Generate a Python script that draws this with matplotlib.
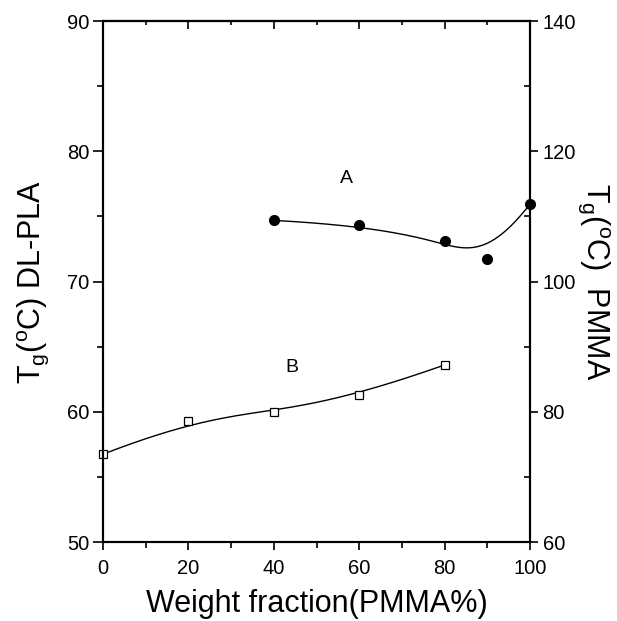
import numpy as np
import matplotlib
matplotlib.use("Agg")
import matplotlib.pyplot as plt
from matplotlib.ticker import MultipleLocator

plt.rcParams['font.family'] = ['Liberation Sans', 'DejaVu Sans']
plt.rcParams['mathtext.fontset'] = 'custom'
plt.rcParams['mathtext.rm'] = 'Liberation Sans'
plt.rcParams['mathtext.it'] = 'Liberation Sans'

# Data
xA = [40, 60, 80, 90, 100]
yA = [109.4, 108.7, 106.2, 103.5, 111.9]   # PMMA Tg (right axis)
xB = [0, 20, 40, 60, 80]
yB = [56.75, 59.3, 60.0, 61.3, 63.6]        # DL-PLA Tg (left axis)


def bspline(px, py, n=300, k=3):
    px = np.asarray(px, float); py = np.asarray(py, float)
    m = len(px)
    t = np.concatenate([np.zeros(k), np.linspace(0, 1, m - k + 1), np.ones(k)])
    u = np.linspace(0, 1, n)
    u[-1] = 1 - 1e-12

    def N(i, p):
        if p == 0:
            return ((t[i] <= u) & (u < t[i + 1])).astype(float)
        a = np.zeros_like(u); b = np.zeros_like(u)
        if t[i + p] != t[i]:
            a = (u - t[i]) / (t[i + p] - t[i]) * N(i, p - 1)
        if t[i + p + 1] != t[i + 1]:
            b = (t[i + p + 1] - u) / (t[i + p + 1] - t[i + 1]) * N(i + 1, p - 1)
        return a + b

    B = np.array([N(i, k) for i in range(m)])
    return B.T @ px, B.T @ py


fig = plt.figure(figsize=(6.17, 6.21), dpi=100)
ax = fig.add_axes([0.167, 0.127, 0.692, 0.839])
ax2 = ax.twinx()

ax.set_xlim(0, 100)
ax.set_ylim(50, 90)
ax2.set_ylim(60, 140)

cxB, cyB = bspline(xB, yB)
ax.plot(cxB, cyB, color='black', lw=1.0)
ax.plot(xB, yB, ls='none', marker='s', ms=6, mfc='white', mec='black', mew=0.9, clip_on=False)

cxA, cyA = bspline(xA, yA)
ax2.plot(cxA, cyA, color='black', lw=1.0)
ax2.plot(xA, yA, ls='none', marker='o', ms=7, color='black', clip_on=False)

ax.text(44.3, 63.4, 'B', fontsize=14, ha='center', va='center')
ax.text(56.9, 77.9, 'A', fontsize=14, ha='center', va='center')

for a in (ax, ax2):
    for s in a.spines.values():
        s.set_linewidth(1.5)

ax.xaxis.set_major_locator(MultipleLocator(20))
ax.xaxis.set_minor_locator(MultipleLocator(10))
ax.yaxis.set_major_locator(MultipleLocator(10))
ax.yaxis.set_minor_locator(MultipleLocator(5))
ax2.yaxis.set_major_locator(MultipleLocator(20))
ax2.yaxis.set_minor_locator(MultipleLocator(10))

ax.tick_params(axis='x', which='both', direction='out', top=False, labelsize=14.5, width=1.2, pad=6)
ax.tick_params(axis='x', which='major', length=6)
ax.tick_params(axis='x', which='minor', length=4)
ax.tick_params(axis='y', which='major', direction='out', length=7, width=1.2, labelsize=14.5, pad=3)
ax.tick_params(axis='y', which='minor', direction='out', length=4, width=1.2)
ax2.tick_params(axis='y', which='major', direction='out', length=6, width=1.2, labelsize=14.5, pad=3)
ax2.tick_params(axis='y', which='minor', direction='in', length=4, width=1.2)

# top ticks inward
sec = ax.secondary_xaxis('top')
sec.xaxis.set_major_locator(MultipleLocator(20))
sec.xaxis.set_minor_locator(MultipleLocator(10))
sec.tick_params(axis='x', which='both', direction='in', labeltop=False, width=1.2)
sec.tick_params(axis='x', which='major', length=6)
sec.tick_params(axis='x', which='minor', length=3)
sec.spines['top'].set_linewidth(1.5)

ax.set_xlabel('Weight fraction(PMMA%)', fontsize=22, labelpad=8)
ax.set_ylabel(r'T$_\mathregular{g}$($^\mathregular{o}$C) DL-PLA', fontsize=22, labelpad=11)
ax2.set_ylabel(r'T$_\mathregular{g}$($^\mathregular{o}$C)  PMMA', fontsize=22, rotation=270, labelpad=26)

fig.savefig('out.png', dpi=100)
